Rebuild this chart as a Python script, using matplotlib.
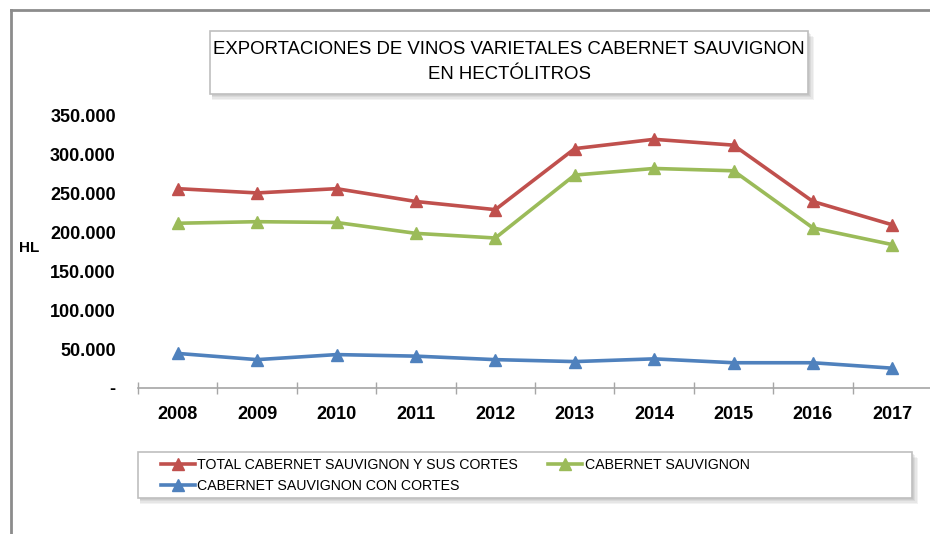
import numpy as np
import matplotlib
matplotlib.use('Agg')
from matplotlib import pyplot as plt
from matplotlib.patches import Rectangle
from matplotlib.ticker import FixedLocator

years = ['2008', '2009', '2010', '2011', '2012', '2013', '2014', '2015', '2016', '2017']
total = [256500, 251000, 256500, 240000, 229500, 308000, 320000, 312500, 240000, 210000]
cabernet = [212000, 214000, 213000, 199000, 193000, 274000, 282500, 279500, 206000, 184500]
con_cortes = [44500, 36500, 43000, 41000, 36500, 34000, 37500, 32500, 32500, 25500]
yticks = [0, 50000, 100000, 150000, 200000, 250000, 300000, 350000]
ytick_labels = ['-', '50.000', '100.000', '150.000', '200.000', '250.000', '300.000', '350.000']

RED = '#C0504D'
GREEN = '#9BBB59'
BLUE = '#4F81BD'

plt.rcParams['font.family'] = ['Liberation Sans', 'DejaVu Sans']

W, H = 930, 534
fig = plt.figure(figsize=(W / 100, H / 100), dpi=100)

def fx(px):
    return px / W

def fy(py):
    return 1 - py / H

# outer chart frame (cut off on right and bottom)
fig.add_artist(plt.Line2D([fx(11), fx(11)], [fy(10), fy(540)], color='#8C8C8C', lw=2.0))
fig.add_artist(plt.Line2D([fx(11), fx(935)], [fy(10), fy(10)], color='#8C8C8C', lw=2.0))

ax = fig.add_axes([fx(138), fy(388), fx(932) - fx(138), fy(116) - fy(388)])
x = np.arange(len(years))
l_tot, = ax.plot(x, total, color=RED, lw=2.6, marker='^', ms=8)
l_cab, = ax.plot(x, cabernet, color=GREEN, lw=2.6, marker='^', ms=8)
l_con, = ax.plot(x, con_cortes, color=BLUE, lw=2.6, marker='^', ms=8)

ax.set_xlim(-0.5, len(years) - 0.5)
ax.set_ylim(0, 350000)
ax.set_yticks(yticks)
ax.set_yticklabels(ytick_labels, fontsize=13, fontweight='bold')
ax.set_xticks(x)
ax.set_xticklabels(years, fontsize=13, fontweight='bold')
ax.xaxis.set_minor_locator(FixedLocator(np.arange(-0.5, len(years), 1.0)))
ax.tick_params(axis='x', which='major', length=0, pad=13)
ax.tick_params(axis='x', which='minor', direction='inout', length=9, color='#A6A6A6', width=1)
ax.tick_params(axis='y', length=0, pad=16)
for s in ['top', 'right', 'left']:
    ax.spines[s].set_visible(False)
ax.spines['bottom'].set_color('#A6A6A6')
ax.spines['bottom'].set_linewidth(1.2)
ax.patch.set_alpha(0)

fig.text(fx(29), fy(248), 'HL', fontsize=11, fontweight='bold', ha='center', va='center')

# boxes with soft shadow
def shadow_box(x0, y0, x1, y1):
    for i, a in enumerate([0.10, 0.10, 0.12, 0.14]):
        d = 6 - i * 1.3
        fig.add_artist(Rectangle((fx(x0 + 2), fy(y1 + d)), fx(x1 - x0 + d - 2), fy(y0) - fy(y1),
                                 transform=fig.transFigure, facecolor='#808080', edgecolor='none', alpha=a))
    fig.add_artist(Rectangle((fx(x0), fy(y1)), fx(x1 - x0), fy(y0) - fy(y1),
                             transform=fig.transFigure, facecolor='white', edgecolor='#BFBFBF', lw=1.2))

shadow_box(210, 31, 808, 94)
fig.text(fx(509), fy(62), 'EXPORTACIONES DE VINOS VARIETALES CABERNET SAUVIGNON\nEN HECTÓLITROS',
         fontsize=13.4, ha='center', va='center', linespacing=1.6)

shadow_box(138, 452, 912, 498)
fig.legend([l_tot, l_con, l_cab],
           ['TOTAL CABERNET SAUVIGNON Y SUS CORTES', 'CABERNET SAUVIGNON CON CORTES', 'CABERNET SAUVIGNON'],
           loc='upper left', bbox_to_anchor=(fx(157), fy(454)), ncol=2, frameon=False,
           fontsize=10.2, handlelength=2.4, handletextpad=0.2, columnspacing=2.1,
           labelspacing=0.55, borderaxespad=0, borderpad=0.25)

fig.savefig('out.png', dpi=100)
